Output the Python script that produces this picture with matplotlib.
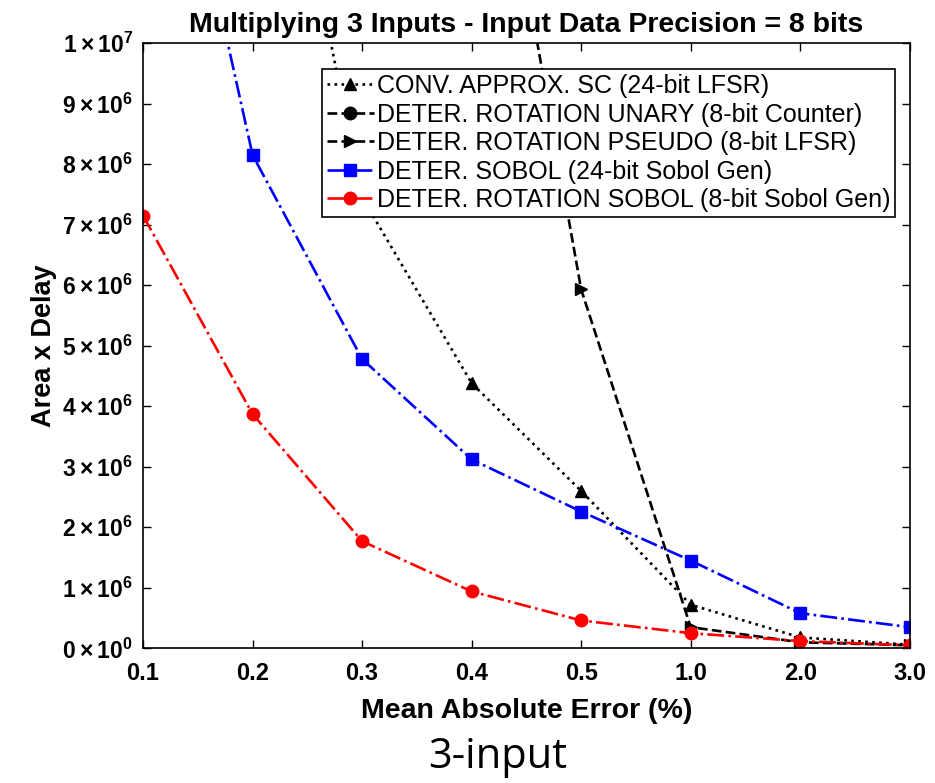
import numpy as np
import matplotlib
matplotlib.use('Agg')
import matplotlib.pyplot as plt
from matplotlib.ticker import FixedLocator, FuncFormatter

plt.rcParams['font.family'] = ['Liberation Sans', 'DejaVu Sans']
plt.rcParams['mathtext.fontset'] = 'custom'
plt.rcParams['mathtext.rm'] = 'Liberation Sans:bold'
plt.rcParams['mathtext.bf'] = 'Liberation Sans:bold'

# ─── Data ────
mae_labels = ['0.1', '0.2', '0.3', '0.4', '0.5', '1.0', '2.0', '3.0']

conv_lfsr = [2.6e7, 1.64e7, 7.45e6, 4.38e6, 2.6e6, 0.72e6, 0.18e6, 0.06e6]
rot_unary = [6.0e7, 4.5e7, 3.5e7, 2.8e7, 2.2e7, 1.6e7, 1.2e7, 1.05e7]
rot_pseudo = [3.5e7, 2.6e7, 2.0e7, 1.61e7, 5.93e6, 0.35e6, 0.1e6, 0.05e6]
sobol_24 = [1.63e7, 8.15e6, 4.78e6, 3.12e6, 2.26e6, 1.45e6, 0.58e6, 0.35e6]
rot_sobol = [7.15e6, 3.87e6, 1.77e6, 0.94e6, 0.46e6, 0.25e6, 0.12e6, 0.05e6]

series = [
    ('CONV. APPROX. SC (24-bit LFSR)', conv_lfsr, 'black', ':', '^'),
    ('DETER. ROTATION UNARY (8-bit Counter)', rot_unary, 'black', '--', 'o'),
    ('DETER. ROTATION PSEUDO (8-bit LFSR)', rot_pseudo, 'black', '--', '>'),
    ('DETER. SOBOL (24-bit Sobol Gen)', sobol_24, 'blue', '-.', 's'),
    ('DETER. ROTATION SOBOL (8-bit Sobol Gen)', rot_sobol, 'red', '-.', 'o'),
]

fig = plt.figure(figsize=(9.35, 7.83), dpi=100)
ax = fig.add_axes([0.153, 0.172, 0.820, 0.773])

x = np.arange(len(mae_labels))
for label, vals, color, ls, mk in series:
    ax.plot(x, vals, color=color, linestyle=ls, marker=mk, linewidth=1.9,
            markersize=9, label=label)

ax.set_xlim(0, len(mae_labels) - 1)
ax.set_ylim(0, 1e7)
ax.set_xticks(x)
ax.set_xticklabels(mae_labels, fontsize=17, fontweight='bold')
ax.yaxis.set_major_locator(FixedLocator(np.arange(0, 1.01e7, 1e6)))


def sci(v, pos):
    if v == 0:
        return r'$0\times10^{0}$'
    e = int(np.floor(np.log10(v) + 1e-9))
    m = int(round(v / 10 ** e))
    return r'$%d\times10^{%d}$' % (m, e)


ax.yaxis.set_major_formatter(FuncFormatter(sci))
for t in ax.get_yticklabels():
    t.set_fontsize(16.5)
ax.tick_params(direction='in', top=True, right=True, length=6, width=1)
ax.tick_params(axis='x', pad=10)
ax.tick_params(axis='y', pad=7)
for s in ax.spines.values():
    s.set_linewidth(1.2)

ax.set_title('Multiplying 3 Inputs - Input Data Precision = 8 bits',
             fontsize=20.5, fontweight='bold', pad=8)
ax.set_xlabel('Mean Absolute Error (%)', fontsize=20.5, fontweight='bold',
              labelpad=9)
ax.set_ylabel('Area x Delay', fontsize=19.5, fontweight='bold', labelpad=4)

leg = ax.legend(loc='upper right', bbox_to_anchor=(0.981, 0.957),
                borderaxespad=0, fontsize=18, frameon=True, fancybox=False,
                edgecolor='black', framealpha=1, handlelength=1.9,
                handletextpad=0.1, labelspacing=0.18, borderpad=0.2,
                numpoints=1)
leg.get_frame().set_linewidth(1.2)

fig.text(0.532, 0.033, '3-input', fontsize=30, ha='center', va='center',
         family=['Open Sans', 'DejaVu Sans'])

fig.savefig('out.png', dpi=100)
